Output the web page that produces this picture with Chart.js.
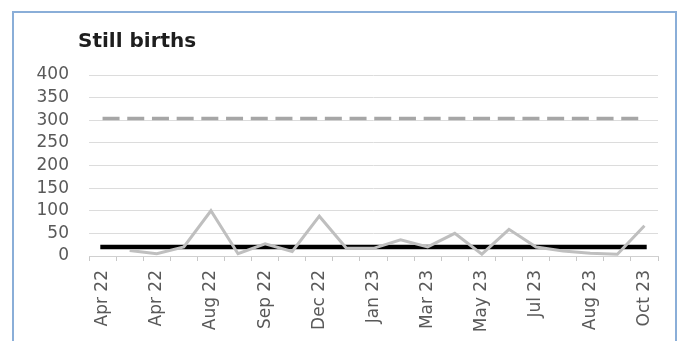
<!DOCTYPE html>
<html>
<head>
<meta charset="utf-8">
<title>Still births</title>
<script src="https://cdn.jsdelivr.net/npm/chart.js@4/dist/chart.umd.min.js"></script>
<style>
  html, body { margin: 0; padding: 0; background: #ffffff; }
  #wrap { position: relative; width: 684px; height: 341px; overflow: hidden; }
  #frame {
    position: absolute; left: 12px; top: 11px; width: 665px; height: 360px;
    border: 2px solid #8aaed8; box-sizing: border-box;
  }
  #chart { position: absolute; left: 0; top: 0; }
</style>
</head>
<body>
<div id="wrap">
  <div id="frame"></div>
  <canvas id="chart" width="684" height="341"></canvas>
</div>
<script>
// Monthly periods on the category axis (only every other one carries a label)
const periods = [
  'Apr 22', '', 'Apr 22', '', 'Aug 22', '', 'Sep 22', '', 'Dec 22', '',
  'Jan 23', '', 'Mar 23', '', 'May 23', '', 'Jul 23', '', 'Aug 23', '', 'Oct 23'
];

// Still births per period
const stillBirths = [null, 12, 5, 20, 100, 5, 27, 10, 88, 17, 17, 36, 20, 50, 4, 59, 20, 11, 6, 4, 67];

// Reference level (solid black)
const baseline = [20, 20, 20, 20, 20, 20, 20, 20, 20, 20, 20, 20, 20, 20, 20, 20, 20, 20, 20, 20, 20];

// Upper limit (dashed grey)
const upperLimit = [304, 304, 304, 304, 304, 304, 304, 304, 304, 304, 304, 304, 304, 304, 304, 304, 304, 304, 304, 304, 304];

// Value axis ticks
const yMin = 0, yMax = 400, yStep = 50;

const FONT = '"DejaVu Sans", "Liberation Sans", sans-serif';

const panelTitle = {
  id: 'panelTitle',
  afterDraw(chart) {
    const ctx = chart.ctx;
    ctx.save();
    ctx.font = 'bold 20px ' + FONT;
    ctx.fillStyle = '#1e1e1e';
    ctx.textAlign = 'left';
    ctx.textBaseline = 'alphabetic';
    ctx.fillText('Still births', 78, 47);
    ctx.restore();
  }
};

new Chart(document.getElementById('chart'), {
  type: 'line',
  data: {
    labels: periods,
    datasets: [
      {
        label: 'Still births',
        data: stillBirths,
        borderColor: '#bfbfbf',
        borderWidth: 3,
        pointRadius: 0,
        tension: 0,
        order: 0
      },
      {
        label: 'Baseline',
        data: baseline,
        borderColor: '#000000',
        borderWidth: 4.5,
        borderCapStyle: 'square',
        pointRadius: 0,
        tension: 0,
        order: 1
      },
      {
        label: 'Upper limit',
        data: upperLimit,
        borderColor: '#a6a6a6',
        borderWidth: 3.5,
        borderDash: [17, 7.7],
        pointRadius: 0,
        tension: 0,
        order: 2
      }
    ]
  },
  options: {
    responsive: false,
    animation: false,
    events: [],
    layout: { padding: { top: 75, right: 26, bottom: 0, left: 0 } },
    plugins: {
      legend: { display: false },
      tooltip: { enabled: false },
      title: { display: false }
    },
    scales: {
      x: {
        offset: true,
        afterFit(s) { s.height = 85; },
        grid: {
          offset: true,
          drawOnChartArea: false,
          drawTicks: true,
          tickLength: 5,
          color: '#c8c8c8'
        },
        border: { display: true, color: '#d0d0d0', width: 1 },
        ticks: {
          autoSkip: false,
          minRotation: 90,
          maxRotation: 90,
          padding: 9,
          color: '#595959',
          font: { family: FONT, size: 17 }
        }
      },
      y: {
        min: yMin,
        max: yMax,
        afterFit(s) { s.width = 89; },
        grid: { color: '#dcdcdc', lineWidth: 1, drawTicks: false },
        border: { display: false },
        ticks: {
          stepSize: yStep,
          autoSkip: false,
          padding: 20,
          color: '#595959',
          font: { family: FONT, size: 17 }
        }
      }
    }
  },
  plugins: [panelTitle]
});
</script>
</body>
</html>
